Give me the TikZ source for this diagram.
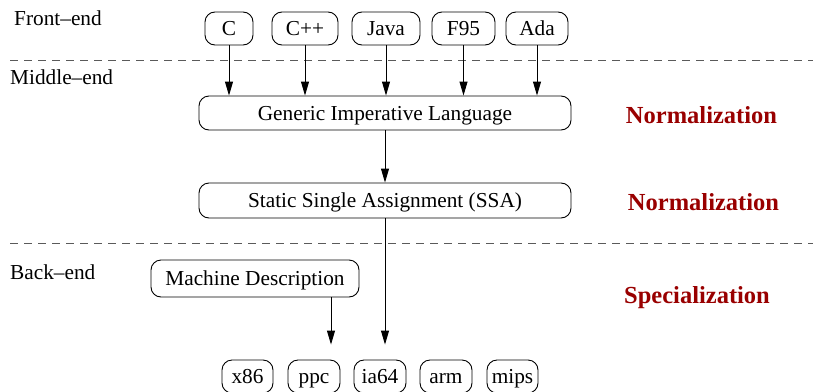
\documentclass[tikz,border=0pt]{standalone}
\usepackage{fontspec}
\setmainfont{Liberation Serif}
\usetikzlibrary{arrows.meta}
\definecolor{darkred}{RGB}{153,0,0}
\definecolor{dashgray}{RGB}{90,90,90}
\tikzset{
  box/.style={draw, rounded corners=10pt, line width=0.9pt, inner sep=0pt,
    font=\fontsize{21.3}{25}\selectfont, minimum height=33pt,
    text height=14pt, text depth=0pt},
  lbl/.style={font=\fontsize{21.3}{25}\selectfont, anchor=west, inner sep=0pt},
  phase/.style={font=\fontsize{24.5}{28}\selectfont\bfseries, text=darkred, inner sep=0pt},
  arr/.style={line width=0.9pt, -{Triangle[length=14pt,width=8pt]}},
  sep/.style={dashgray, line width=0.9pt, dash pattern=on 8pt off 6pt}
}
\begin{document}
\begin{tikzpicture}[x=1pt,y=-1pt]
\useasboundingbox (0,0) rectangle (813,391);
\clip (0,0) rectangle (813,391);
% layer labels
\node[lbl] (fe) at (14,18) {Front--end};
\node[lbl] (me) at (10,77) {Middle--end};
\node[lbl] (be) at (10,272) {Back--end};
% separators
\coordinate (s1a) at (10,60); \coordinate (s1b) at (813,60);
\coordinate (s2a) at (10,243); \coordinate (s2b) at (813,243);
\draw[sep] (s1a) -- (s1b);
\draw[sep] (s2a) -- (s2b);
% front-end languages
\node[box, minimum width=48pt] (c) at (229,28.5) {C};
\node[box, minimum width=66pt] (cpp) at (305,28.5) {C++};
\node[box, minimum width=68pt] (java) at (386,28.5) {Java};
\node[box, minimum width=63pt] (f95) at (463.5,28.5) {F95};
\node[box, minimum width=62pt] (ada) at (537,28.5) {Ada};
% middle
\node[box, minimum width=372pt, minimum height=34pt] (gil) at (385,113) {Generic Imperative Language};
\node[box, minimum width=372pt, minimum height=35pt] (ssa) at (385,200.5) {Static Single Assignment (SSA)};
% back
\node[box, minimum width=208pt, minimum height=37pt] (md) at (255,278.5) {Machine Description};
\node[box, minimum width=51pt] (x86) at (247.5,376.5) {x86};
\node[box, minimum width=52pt] (ppc) at (314,376.5) {ppc};
\node[box, minimum width=52pt] (ia64) at (380,376.5) {ia64};
\node[box, minimum width=52pt] (arm) at (446,376.5) {arm};
\node[box, minimum width=51pt] (mips) at (512.5,376.5) {mips};
% phases
\node[phase] (n1) at (701.5,115) {Normalization};
\node[phase] (n2) at (703.5,202) {Normalization};
\node[phase] (sp) at (697,298) {Specialization};
% arrows
\draw[arr] (c.south) -- (c.south |- gil.north);
\draw[arr] (cpp.south) -- (cpp.south |- gil.north);
\draw[arr] (java.south) -- (java.south |- gil.north);
\draw[arr] (f95.south) -- (f95.south |- gil.north);
\draw[arr] (ada.south) -- (ada.south |- gil.north);
\draw[arr] (gil.south) -- (ssa.north);
\draw[arr, shorten >=15pt] (ssa.south) -- (ssa.south |- ia64.north);
\draw[arr, shorten >=15pt] ([xshift=76pt]md.south) -- ([xshift=76pt]md.south |- ppc.north);
\end{tikzpicture}
\end{document}
